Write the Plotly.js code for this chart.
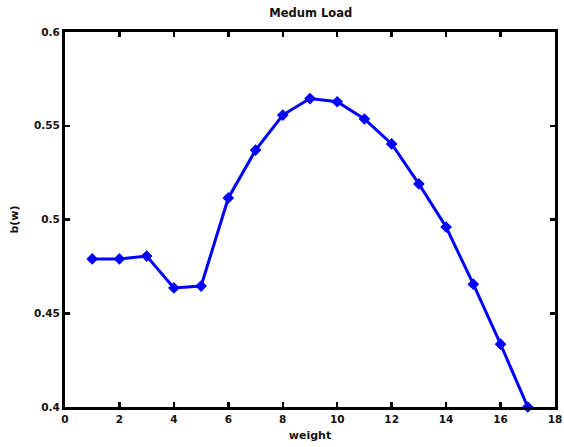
<!DOCTYPE html>
<html>
<head>
<meta charset="utf-8">
<script src="https://cdn.plot.ly/plotly-3.0.1.min.js"></script>
<style>html,body{margin:0;padding:0;background:#fff;}#chart{width:564px;height:447px;}</style>
</head>
<body>
<div id="chart"></div>
<script>
const weights = [1, 2, 3, 4, 5, 6, 7, 8, 9, 10, 11, 12, 13, 14, 15, 16, 17];
const bValues = [0.479, 0.479, 0.4805, 0.4635, 0.4645, 0.5115, 0.537, 0.5557, 0.5645, 0.5628, 0.5536, 0.5403, 0.519, 0.496, 0.4655, 0.4335, 0.4];
const xTicks = [0, 2, 4, 6, 8, 10, 12, 14, 16, 18];
const yTicks = [0.4, 0.45, 0.5, 0.55, 0.6];
const yTickText = ["0.4", "0.45", "0.5", "0.55", "0.6"];

const fam = "DejaVu Sans, Liberation Sans, Arial, sans-serif";
const tickFont = {family: fam, size: 10.5, color: "#111", weight: "bold"};
const labFont = {family: fam, size: 11, color: "#111", weight: "bold"};

Plotly.newPlot("chart", [{
  x: weights, y: bValues, type: "scatter", mode: "lines+markers",
  line: {color: "#0000ff", width: 3},
  marker: {symbol: "diamond", size: 9, color: "#0000ff"},
  cliponaxis: false
}], {
  width: 564, height: 447,
  margin: {l: 65, r: 9, t: 32, b: 40},
  paper_bgcolor: "#fff", plot_bgcolor: "#fff",
  showlegend: false,
  font: tickFont,
  title: {text: "Medum Load", font: {family: fam, size: 11.5, weight: "bold", color: "#111"}, x: 0.551, xanchor: "center", y: 0.972, yanchor: "middle"},
  xaxis: {
    range: [0, 18], tickvals: xTicks, ticktext: xTicks.map(String),
    ticks: "inside", ticklen: 5, tickwidth: 2.5, tickcolor: "#000",
    showline: true, linewidth: 3, linecolor: "#000", mirror: "ticks",
    showgrid: false, zeroline: false, tickfont: tickFont,
    title: {text: "weight", font: labFont, standoff: 8}
  },
  yaxis: {
    range: [0.4, 0.6], tickvals: yTicks, ticktext: yTickText,
    ticks: "inside", ticklen: 5, tickwidth: 2.5, tickcolor: "#000",
    showline: true, linewidth: 3, linecolor: "#000", mirror: "ticks",
    showgrid: false, zeroline: false, tickfont: tickFont,
    title: {text: "b(w)", font: labFont, standoff: 14}
  }
}, {displayModeBar: false, staticPlot: true});
</script>
</body>
</html>
